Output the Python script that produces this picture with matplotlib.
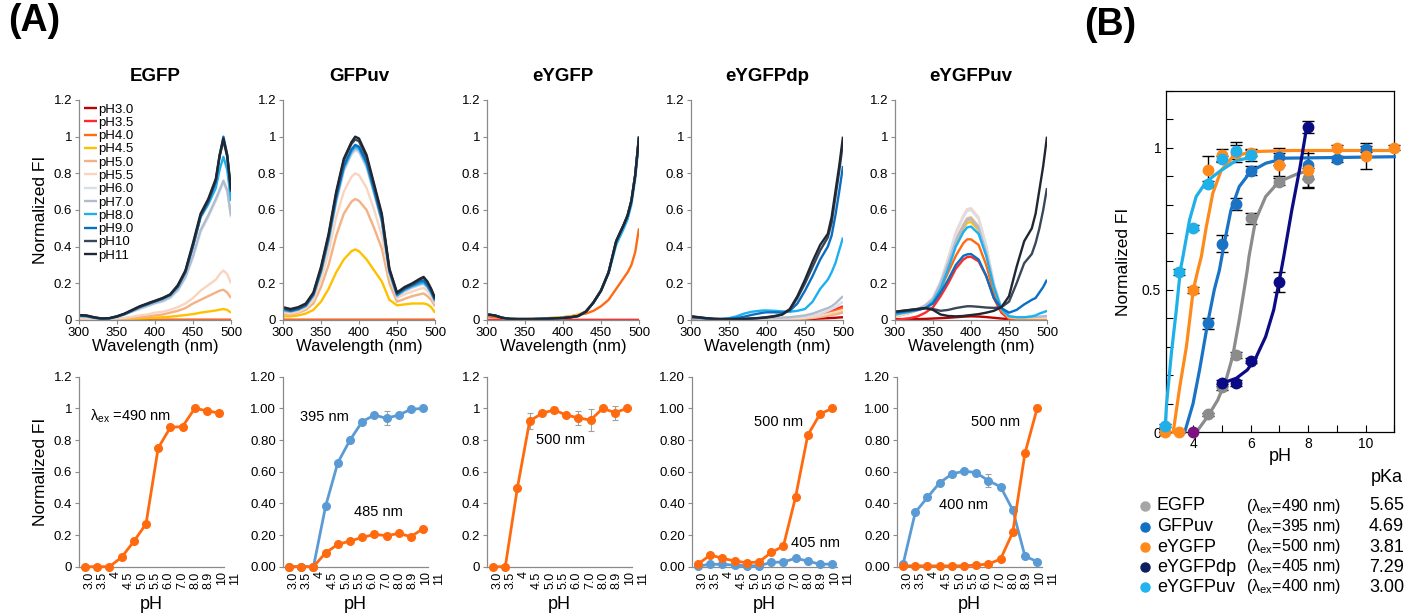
import matplotlib
matplotlib.use('Agg')
import matplotlib.pyplot as plt
import matplotlib.transforms as mtransforms
from matplotlib.ticker import MultipleLocator, FuncFormatter

plt.rcParams.update({
    'font.family': ['Liberation Sans', 'DejaVu Sans'],
    'mathtext.fontset': 'custom',
    'mathtext.rm': 'Liberation Sans',
    'mathtext.it': 'Liberation Sans:italic',
    'font.size': 10,
    'axes.linewidth': 0.8,
})

W, H = 1420, 613

# ---- (A) top row: excitation spectra ----
WL = [300, 310, 320, 330, 340, 350, 360, 370, 380, 390, 395, 400,
      410, 420, 430, 440, 450, 460, 470, 480, 485, 490, 495, 500]
PH_LABELS = ['pH3.0', 'pH3.5', 'pH4.0', 'pH4.5', 'pH5.0', 'pH5.5',
             'pH6.0', 'pH7.0', 'pH8.0', 'pH9.0', 'pH10', 'pH11']
PH_COLORS = ['#C00000', '#FF2A2A', '#FF6A13', '#FFC000', '#F4B183', '#F9D5C0',
             '#D9DFEA', '#B0BCCD', '#1CB0F0', '#0A6FC2', '#3A4759', '#1F2733']

ZERO = [0.0] * 24

egfp_ph45 = [0, 0, 0, 0, 0, 0.003, 0.005, 0.007, 0.009, 0.011, 0.012, 0.013, 0.015, 0.018, 0.022, 0.027, 0.032, 0.04, 0.046, 0.052, 0.056, 0.06, 0.055, 0.04]
egfp_ph50 = [0.003, 0.003, 0.003, 0.003, 0.003, 0.005, 0.008, 0.012, 0.016, 0.02, 0.022, 0.025, 0.03, 0.04, 0.05, 0.065, 0.09, 0.11, 0.13, 0.15, 0.16, 0.165, 0.15, 0.12]
egfp_ph55 = [0.005, 0.005, 0.005, 0.005, 0.005, 0.008, 0.012, 0.018, 0.025, 0.03, 0.035, 0.04, 0.045, 0.055, 0.07, 0.09, 0.12, 0.16, 0.19, 0.22, 0.25, 0.27, 0.25, 0.2]
egfp_ph60 = [0.02, 0.018, 0.01, 0.005, 0.008, 0.015, 0.03, 0.045, 0.06, 0.075, 0.082, 0.09, 0.1, 0.12, 0.16, 0.23, 0.34, 0.48, 0.56, 0.65, 0.7, 0.75, 0.7, 0.56]
egfp_ph70 = [0.021, 0.019, 0.011, 0.006, 0.008, 0.016, 0.031, 0.047, 0.063, 0.078, 0.085, 0.093, 0.105, 0.125, 0.165, 0.235, 0.35, 0.49, 0.57, 0.66, 0.71, 0.76, 0.71, 0.57]
egfp_ph80 = [0.022, 0.02, 0.012, 0.007, 0.009, 0.018, 0.031, 0.05, 0.07, 0.085, 0.093, 0.1, 0.115, 0.135, 0.18, 0.26, 0.4, 0.56, 0.63, 0.72, 0.82, 0.89, 0.82, 0.65]
egfp_ph90 = [0.024, 0.022, 0.013, 0.007, 0.009, 0.019, 0.033, 0.052, 0.072, 0.087, 0.095, 0.102, 0.117, 0.137, 0.183, 0.262, 0.405, 0.565, 0.645, 0.755, 0.895, 1.0, 0.9, 0.7]
egfp_ph10 = [0.025, 0.023, 0.014, 0.008, 0.01, 0.02, 0.034, 0.053, 0.073, 0.088, 0.096, 0.103, 0.118, 0.138, 0.185, 0.265, 0.41, 0.57, 0.65, 0.76, 0.89, 0.98, 0.89, 0.7]
egfp_ph11 = [0.027, 0.025, 0.015, 0.008, 0.01, 0.02, 0.035, 0.055, 0.075, 0.09, 0.098, 0.105, 0.12, 0.14, 0.19, 0.27, 0.42, 0.58, 0.66, 0.77, 0.9, 0.99, 0.9, 0.71]

gfpuv_ph45 = [0.02, 0.02, 0.025, 0.035, 0.055, 0.1, 0.17, 0.26, 0.33, 0.375, 0.385, 0.375, 0.33, 0.27, 0.21, 0.11, 0.08, 0.085, 0.09, 0.09, 0.09, 0.085, 0.07, 0.04]
gfpuv_ph50 = [0.035, 0.03, 0.04, 0.055, 0.09, 0.18, 0.3, 0.46, 0.58, 0.645, 0.66, 0.65, 0.6, 0.5, 0.39, 0.2, 0.1, 0.115, 0.13, 0.14, 0.145, 0.13, 0.11, 0.075]
gfpuv_ph55 = [0.04, 0.035, 0.045, 0.065, 0.11, 0.22, 0.37, 0.56, 0.7, 0.78, 0.8, 0.79, 0.72, 0.6, 0.46, 0.24, 0.12, 0.14, 0.155, 0.17, 0.175, 0.16, 0.13, 0.09]
gfpuv_ph60 = [0.05, 0.045, 0.055, 0.075, 0.13, 0.255, 0.425, 0.64, 0.81, 0.9, 0.925, 0.915, 0.83, 0.685, 0.535, 0.255, 0.13, 0.155, 0.175, 0.19, 0.195, 0.175, 0.14, 0.1]
gfpuv_ph70 = [0.05, 0.045, 0.055, 0.075, 0.13, 0.26, 0.43, 0.65, 0.82, 0.91, 0.935, 0.925, 0.84, 0.69, 0.54, 0.26, 0.13, 0.16, 0.18, 0.195, 0.2, 0.18, 0.145, 0.1]
gfpuv_ph80 = [0.055, 0.048, 0.058, 0.078, 0.135, 0.265, 0.44, 0.66, 0.83, 0.92, 0.945, 0.935, 0.85, 0.7, 0.545, 0.265, 0.135, 0.165, 0.185, 0.2, 0.205, 0.185, 0.15, 0.105]
gfpuv_ph90 = [0.06, 0.05, 0.06, 0.08, 0.14, 0.27, 0.45, 0.67, 0.84, 0.93, 0.955, 0.945, 0.86, 0.71, 0.55, 0.27, 0.14, 0.17, 0.19, 0.21, 0.215, 0.19, 0.155, 0.11]
gfpuv_ph10 = [0.065, 0.055, 0.065, 0.085, 0.145, 0.28, 0.46, 0.69, 0.87, 0.96, 0.985, 0.975, 0.885, 0.73, 0.57, 0.275, 0.145, 0.175, 0.195, 0.22, 0.23, 0.205, 0.165, 0.115]
gfpuv_ph11 = [0.07, 0.06, 0.07, 0.09, 0.15, 0.29, 0.47, 0.7, 0.88, 0.97, 1.0, 0.99, 0.9, 0.74, 0.58, 0.28, 0.15, 0.18, 0.2, 0.225, 0.235, 0.21, 0.17, 0.12]

eygfp_ph40 = [0.02, 0.015, 0.01, 0.006, 0.005, 0.005, 0.006, 0.008, 0.01, 0.012, 0.013, 0.015, 0.02, 0.028, 0.035, 0.05, 0.075, 0.11, 0.17, 0.23, 0.26, 0.3, 0.37, 0.5]
eygfp_ph45 = [0.03, 0.025, 0.012, 0.006, 0.005, 0.005, 0.006, 0.008, 0.01, 0.012, 0.013, 0.015, 0.02, 0.03, 0.048, 0.095, 0.16, 0.26, 0.42, 0.52, 0.57, 0.65, 0.79, 1.0]
eygfp_ph80 = [0.03, 0.025, 0.012, 0.006, 0.005, 0.005, 0.005, 0.006, 0.007, 0.009, 0.01, 0.011, 0.015, 0.022, 0.045, 0.095, 0.16, 0.255, 0.41, 0.5, 0.55, 0.63, 0.77, 0.98]
eygfp_high = [0.03, 0.025, 0.012, 0.006, 0.005, 0.005, 0.005, 0.006, 0.007, 0.009, 0.01, 0.011, 0.015, 0.022, 0.045, 0.095, 0.16, 0.26, 0.43, 0.52, 0.57, 0.65, 0.79, 1.0]

dp_ph30 = [0.01, 0.008, 0.006, 0.005, 0.004, 0.004, 0.004, 0.004, 0.004, 0.004, 0.004, 0.004, 0.004, 0.004, 0.004, 0.004, 0.005, 0.006, 0.008, 0.01, 0.011, 0.012, 0.014, 0.015]
dp_ph35 = [0.012, 0.01, 0.007, 0.005, 0.004, 0.004, 0.004, 0.004, 0.004, 0.004, 0.004, 0.004, 0.004, 0.005, 0.007, 0.01, 0.015, 0.022, 0.032, 0.045, 0.052, 0.058, 0.066, 0.075]
dp_ph40 = [0.012, 0.01, 0.007, 0.005, 0.004, 0.004, 0.004, 0.004, 0.004, 0.004, 0.004, 0.004, 0.004, 0.005, 0.006, 0.009, 0.013, 0.019, 0.028, 0.039, 0.045, 0.05, 0.057, 0.065]
dp_ph45 = [0.012, 0.01, 0.007, 0.005, 0.004, 0.004, 0.004, 0.004, 0.004, 0.004, 0.004, 0.004, 0.004, 0.005, 0.005, 0.007, 0.009, 0.013, 0.019, 0.027, 0.031, 0.035, 0.04, 0.045]
dp_ph50 = [0.012, 0.01, 0.007, 0.005, 0.004, 0.004, 0.004, 0.004, 0.004, 0.004, 0.004, 0.004, 0.004, 0.004, 0.005, 0.006, 0.008, 0.011, 0.016, 0.023, 0.027, 0.031, 0.035, 0.04]
dp_ph55 = [0.012, 0.01, 0.007, 0.005, 0.004, 0.004, 0.004, 0.004, 0.004, 0.004, 0.004, 0.004, 0.005, 0.006, 0.007, 0.009, 0.012, 0.017, 0.024, 0.033, 0.038, 0.043, 0.049, 0.055]
dp_ph60 = [0.012, 0.01, 0.007, 0.005, 0.004, 0.004, 0.004, 0.005, 0.006, 0.008, 0.008, 0.009, 0.01, 0.011, 0.012, 0.015, 0.018, 0.025, 0.035, 0.05, 0.06, 0.07, 0.085, 0.1]
dp_ph70 = [0.015, 0.012, 0.008, 0.005, 0.004, 0.004, 0.005, 0.006, 0.008, 0.01, 0.01, 0.011, 0.012, 0.013, 0.015, 0.02, 0.025, 0.035, 0.05, 0.065, 0.075, 0.09, 0.11, 0.13]
dp_ph80 = [0.015, 0.012, 0.008, 0.005, 0.006, 0.01, 0.02, 0.035, 0.045, 0.05, 0.052, 0.052, 0.05, 0.047, 0.045, 0.05, 0.06, 0.1, 0.17, 0.22, 0.26, 0.31, 0.38, 0.45]
dp_ph90 = [0.015, 0.012, 0.008, 0.005, 0.005, 0.006, 0.01, 0.018, 0.028, 0.036, 0.04, 0.042, 0.042, 0.04, 0.05, 0.09, 0.16, 0.24, 0.33, 0.4, 0.46, 0.57, 0.7, 0.84]
dp_ph10 = [0.02, 0.015, 0.01, 0.006, 0.005, 0.005, 0.005, 0.006, 0.008, 0.012, 0.014, 0.016, 0.022, 0.03, 0.055, 0.12, 0.2, 0.29, 0.38, 0.45, 0.53, 0.67, 0.81, 0.97]
dp_ph11 = [0.02, 0.015, 0.01, 0.006, 0.005, 0.005, 0.005, 0.006, 0.008, 0.01, 0.012, 0.014, 0.02, 0.03, 0.06, 0.13, 0.22, 0.32, 0.41, 0.47, 0.56, 0.7, 0.84, 1.0]

uv_ph30 = [0.005, 0.005, 0.005, 0.005, 0.006, 0.008, 0.01, 0.012, 0.015, 0.018, 0.019, 0.02, 0.019, 0.016, 0.012, 0.008, 0.005, 0.004, 0.003, 0.003, 0.003, 0.003, 0.003, 0.003]
uv_ph35 = [0.0, 0.005, 0.01, 0.02, 0.04, 0.07, 0.13, 0.2, 0.28, 0.33, 0.343, 0.345, 0.32, 0.24, 0.12, 0.04, 0.005, 0.002, 0.002, 0.002, 0.002, 0.002, 0.002, 0.002]
uv_ph40 = [0.02, 0.03, 0.04, 0.055, 0.07, 0.1, 0.17, 0.26, 0.35, 0.42, 0.44, 0.44, 0.41, 0.3, 0.15, 0.05, 0.01, 0.005, 0.005, 0.005, 0.005, 0.005, 0.005, 0.005]
uv_ph45 = [0.02, 0.03, 0.04, 0.055, 0.075, 0.11, 0.19, 0.3, 0.42, 0.5, 0.53, 0.535, 0.49, 0.36, 0.18, 0.06, 0.015, 0.01, 0.01, 0.01, 0.01, 0.01, 0.01, 0.01]
uv_ph50 = [0.02, 0.03, 0.04, 0.055, 0.075, 0.11, 0.2, 0.31, 0.44, 0.52, 0.555, 0.56, 0.51, 0.38, 0.19, 0.06, 0.015, 0.01, 0.01, 0.01, 0.01, 0.01, 0.01, 0.01]
uv_ph55 = [0.02, 0.03, 0.04, 0.055, 0.08, 0.12, 0.21, 0.34, 0.48, 0.57, 0.605, 0.61, 0.56, 0.41, 0.2, 0.065, 0.018, 0.012, 0.012, 0.012, 0.012, 0.012, 0.012, 0.012]
uv_ph60 = [0.025, 0.035, 0.045, 0.06, 0.08, 0.12, 0.21, 0.33, 0.47, 0.56, 0.595, 0.6, 0.55, 0.4, 0.2, 0.065, 0.02, 0.015, 0.015, 0.015, 0.015, 0.016, 0.017, 0.018]
uv_ph70 = [0.03, 0.04, 0.05, 0.06, 0.08, 0.115, 0.2, 0.31, 0.43, 0.51, 0.545, 0.55, 0.5, 0.37, 0.19, 0.06, 0.02, 0.015, 0.015, 0.016, 0.017, 0.018, 0.02, 0.022]
uv_ph80 = [0.03, 0.038, 0.045, 0.055, 0.065, 0.1, 0.17, 0.28, 0.4, 0.48, 0.505, 0.51, 0.47, 0.35, 0.18, 0.06, 0.02, 0.015, 0.015, 0.02, 0.025, 0.035, 0.042, 0.05]
uv_ph90 = [0.04, 0.045, 0.05, 0.055, 0.065, 0.09, 0.15, 0.22, 0.3, 0.35, 0.358, 0.36, 0.33, 0.24, 0.12, 0.065, 0.04, 0.055, 0.085, 0.11, 0.12, 0.15, 0.18, 0.22]
uv_ph10 = [0.045, 0.05, 0.055, 0.06, 0.065, 0.06, 0.05, 0.055, 0.065, 0.072, 0.075, 0.075, 0.072, 0.068, 0.066, 0.07, 0.1, 0.2, 0.31, 0.36, 0.42, 0.5, 0.6, 0.72]
uv_ph11 = [0.045, 0.05, 0.055, 0.06, 0.065, 0.055, 0.03, 0.022, 0.02, 0.022, 0.025, 0.027, 0.032, 0.04, 0.05, 0.07, 0.13, 0.29, 0.43, 0.5, 0.58, 0.71, 0.84, 1.0]

PROTEINS = ['EGFP', 'GFPuv', 'eYGFP', 'eYGFPdp', 'eYGFPuv']
SPECTRA = [
    [ZERO, ZERO, ZERO, egfp_ph45, egfp_ph50, egfp_ph55, egfp_ph60, egfp_ph70, egfp_ph80, egfp_ph90, egfp_ph10, egfp_ph11],
    [ZERO, ZERO, ZERO, gfpuv_ph45, gfpuv_ph50, gfpuv_ph55, gfpuv_ph60, gfpuv_ph70, gfpuv_ph80, gfpuv_ph90, gfpuv_ph10, gfpuv_ph11],
    [ZERO, ZERO, eygfp_ph40, eygfp_ph45, eygfp_high, eygfp_high, eygfp_high, eygfp_high, eygfp_ph80, eygfp_high, eygfp_high, eygfp_high],
    [dp_ph30, dp_ph35, dp_ph40, dp_ph45, dp_ph50, dp_ph55, dp_ph60, dp_ph70, dp_ph80, dp_ph90, dp_ph10, dp_ph11],
    [uv_ph30, uv_ph35, uv_ph40, uv_ph45, uv_ph50, uv_ph55, uv_ph60, uv_ph70, uv_ph80, uv_ph90, uv_ph10, uv_ph11],
]

# ---- (A) bottom row: FI vs pH (categorical pH axis) ----
PH_TICKS = ['3.0', '3.5', '4', '4.5', '5.0', '5.5', '6.0', '7.0', '8.0', '8.9', '10', '11']
egfp_490 = [0, 0, 0, 0.06, 0.16, 0.27, 0.75, 0.88, 0.885, 1.0, 0.985, 0.97]
egfp_490_err = [0, 0, 0, 0, 0, 0, 0, 0, 0, 0, 0.01, 0.02]
gfpuv_395 = [0, 0, 0, 0.383, 0.657, 0.8, 0.916, 0.958, 0.937, 0.958, 0.994, 1.0]
gfpuv_395_err = [0, 0, 0, 0, 0, 0, 0, 0, 0.045, 0, 0, 0.01]
gfpuv_485 = [0, 0, 0, 0.088, 0.141, 0.162, 0.185, 0.204, 0.196, 0.21, 0.19, 0.24]
eygfp_500 = [0, 0, 0.5, 0.92, 0.968, 0.99, 0.958, 0.94, 0.926, 1.0, 0.973, 1.0]
eygfp_500_err = [0, 0, 0, 0.05, 0.01, 0.02, 0.015, 0.045, 0.07, 0, 0.045, 0]
dp_500 = [0.017, 0.074, 0.053, 0.036, 0.025, 0.03, 0.09, 0.13, 0.44, 0.83, 0.964, 1.0]
dp_405 = [0.004, 0.015, 0.015, 0.01, 0.006, 0.006, 0.027, 0.03, 0.053, 0.036, 0.015, 0.017]
uv_400 = [0.017, 0.343, 0.438, 0.53, 0.585, 0.604, 0.594, 0.543, 0.505, 0.358, 0.067, 0.032]
uv_400_err = [0, 0, 0, 0, 0, 0, 0.01, 0.04, 0, 0, 0, 0]
uv_500 = [0.005, 0.006, 0.005, 0.005, 0.005, 0.006, 0.01, 0.017, 0.048, 0.217, 0.716, 1.0]

# ---- (B) pH titration with fits ----
b_egfp_ph = [4.5, 5.0, 5.5, 6.0, 7.0, 8.0]
b_egfp_fi = [0.063, 0.16, 0.272, 0.752, 0.88, 0.892]
b_egfp_err = [0.005, 0.01, 0.01, 0.02, 0.012, 0.035]
b_gfpuv_ph = [4.5, 5.0, 5.5, 6.0, 7.0, 8.0, 9.0, 10.0]
b_gfpuv_fi = [0.383, 0.662, 0.802, 0.919, 0.968, 0.94, 0.959, 0.994]
b_gfpuv_err = [0.02, 0.03, 0.02, 0.015, 0.03, 0.05, 0.01, 0.01]
b_eygfp_ph = [3.0, 3.5, 4.0, 4.5, 5.0, 5.5, 6.0, 7.0, 8.0, 9.0, 10.0, 11.0]
b_eygfp_fi = [0.0, 0.0, 0.5, 0.92, 0.974, 0.98, 0.98, 0.94, 0.92, 1.0, 0.971, 1.0]
b_eygfp_err = [0, 0, 0.01, 0.05, 0.02, 0.03, 0.01, 0.04, 0.06, 0.01, 0.045, 0.01]
b_dp_ph = [5.0, 5.5, 6.0, 7.0, 8.0]
b_dp_fi = [0.172, 0.172, 0.252, 0.529, 1.072]
b_dp_err = [0.01, 0.01, 0.01, 0.035, 0.02]
b_uv_ph = [3.0, 3.5, 4.0, 4.5, 5.0, 5.5, 6.0]
b_uv_fi = [0.023, 0.564, 0.719, 0.872, 0.959, 0.989, 0.974]
b_uv_err = [0.005, 0.01, 0.01, 0.01, 0.01, 0.03, 0.02]
b_extra_ph = [4.0]
b_extra_fi = [0.0]

# fitted curves
fit_egfp_ph = [4.1, 4.5, 4.85, 5.14, 5.37, 5.6, 5.77, 5.88, 5.94, 6.17, 6.52, 6.98, 7.67, 7.98]
fit_egfp_fi = [0.0, 0.055, 0.113, 0.184, 0.266, 0.395, 0.5, 0.57, 0.617, 0.746, 0.828, 0.88, 0.91, 0.916]
fit_gfpuv_ph = [3.7, 3.99, 4.22, 4.5, 4.73, 4.91, 5.08, 5.31, 5.6, 6.0, 6.52, 7.2, 11.0]
fit_gfpuv_fi = [0.0, 0.1, 0.22, 0.383, 0.5, 0.57, 0.664, 0.78, 0.863, 0.916, 0.945, 0.963, 0.968]
fit_eygfp_ph = [3.3, 3.53, 3.76, 4.0, 4.16, 4.28, 4.45, 4.68, 4.97, 5.37, 6.06, 7.43, 11.0]
fit_eygfp_fi = [0.0, 0.16, 0.3, 0.5, 0.57, 0.617, 0.72, 0.84, 0.92, 0.968, 0.986, 0.99, 0.99]
fit_dp_ph = [5.0, 5.5, 5.88, 6.17, 6.52, 6.8, 6.98, 7.15, 7.43, 7.72, 7.95]
fit_dp_fi = [0.172, 0.19, 0.219, 0.26, 0.336, 0.43, 0.524, 0.617, 0.78, 0.933, 1.072]
fit_uv_ph = [3.02, 3.07, 3.24, 3.41, 3.55, 3.64, 3.87, 4.1, 4.45, 4.91, 5.5, 6.0]
fit_uv_fi = [0.02, 0.1, 0.28, 0.43, 0.57, 0.617, 0.746, 0.828, 0.88, 0.916, 0.955, 0.965]

LEG_NAMES = ['EGFP', 'GFPuv', 'eYGFP', 'eYGFPdp', 'eYGFPuv']
LEG_EX = ['490', '395', '500', '405', '400']
LEG_PKA = ['5.65', '4.69', '3.81', '7.29', '3.00']
LEG_COLORS = ['#A6A6A6', '#1170C4', '#FF8A1C', '#0D1E5E', '#1FB4EF']

B_COLORS = {'egfp': '#8C8C8C', 'gfpuv': '#1A73C4', 'eygfp': '#FF8A1C',
            'dp': '#0B0B85', 'uv': '#1FB0EA', 'extra': '#7A137E'}
ORANGE = '#FF6A0E'
BLUE = '#5B9BD5'
AXGREY = '#8A8A8A'
LAM = 'λ$_{\\rm ex}$'


def rect(x0, y0, x1, y1):
    return [x0 / W, 1 - y1 / H, (x1 - x0) / W, (y1 - y0) / H]


def style_a(ax):
    for s in ['top', 'right']:
        ax.spines[s].set_visible(False)
    for s in ['left', 'bottom']:
        ax.spines[s].set_color(AXGREY)
        ax.spines[s].set_linewidth(0.9)
    ax.tick_params(direction='out', length=3, width=0.8, color=AXGREY,
                   labelsize=9.5, pad=2)


fig = plt.figure(figsize=(W / 100, H / 100), dpi=100)

TOP_X = [79, 283, 487, 691, 895]
BOT_X = [79, 283, 487, 692, 897]

for i, (name, specs) in enumerate(zip(PROTEINS, SPECTRA)):
    ax = fig.add_axes(rect(TOP_X[i], 100, TOP_X[i] + 152, 320))
    for lab, col, spec in zip(PH_LABELS, PH_COLORS, specs):
        ax.plot(WL, spec, color=col, lw=1.7, label=lab, solid_capstyle='butt')
    ax.set_xlim(300, 500)
    ax.set_ylim(0, 1.2)
    ax.set_xticks([300, 350, 400, 450, 500])
    ax.set_yticks([0, 0.2, 0.4, 0.6, 0.8, 1.0, 1.2])
    ax.yaxis.set_major_formatter(FuncFormatter(lambda v, _: f'{v:g}'))
    style_a(ax)
    ax.set_xlabel('Wavelength (nm)', fontsize=12, labelpad=0)
    ax.set_title(name, fontsize=13.5, fontweight='bold', pad=14)
    if i == 0:
        ax.set_ylabel('Normalized FI', fontsize=12.5, labelpad=4)
        ax.legend(loc='upper left', bbox_to_anchor=(0.03, 0.985), frameon=False,
                  fontsize=9.5, handlelength=1.0, handletextpad=0.1,
                  labelspacing=0.08, borderaxespad=0, borderpad=0)

BOTTOM = [
    [(egfp_490, egfp_490_err, ORANGE)],
    [(gfpuv_395, gfpuv_395_err, BLUE), (gfpuv_485, None, ORANGE)],
    [(eygfp_500, eygfp_500_err, ORANGE)],
    [(dp_405, None, BLUE), (dp_500, None, ORANGE)],
    [(uv_400, uv_400_err, BLUE), (uv_500, None, ORANGE)],
]
NOTES = [
    [(0.076, 0.79, LAM + ' =490 nm')],
    [(0.117, 0.79, '395 nm'), (0.49, 0.29, '485 nm')],
    [(0.34, 0.667, '500 nm')],
    [(0.43, 0.76, '500 nm'), (0.68, 0.126, '405 nm')],
    [(0.51, 0.76, '500 nm'), (0.29, 0.325, '400 nm')],
]
label_pos = [0.33 + k * 1.088 for k in range(len(PH_TICKS))]

for i in range(5):
    ax = fig.add_axes(rect(BOT_X[i], 376.7, BOT_X[i] + 145, 566.7))
    idx = list(range(len(PH_TICKS)))
    for vals, err, col in BOTTOM[i]:
        if err is not None:
            ax.errorbar(idx, vals, yerr=err, fmt='none', ecolor='#A0A0A0',
                        elinewidth=0.8, capsize=2, capthick=0.8, zorder=2)
        ax.plot(idx, vals, color=col, lw=2.0, marker='o', ms=5.5, zorder=3,
                clip_on=False)
    ax.set_xlim(-0.5, 11.4)
    ax.set_ylim(0, 1.2)
    ax.set_yticks([0, 0.2, 0.4, 0.6, 0.8, 1.0, 1.2])
    if i in (0, 2):
        ax.yaxis.set_major_formatter(FuncFormatter(lambda v, _: f'{v:g}'))
    else:
        ax.yaxis.set_major_formatter(FuncFormatter(lambda v, _: f'{v:.2f}'))
    ax.set_xticks([])
    style_a(ax)
    trans = mtransforms.blended_transform_factory(ax.transData, ax.transAxes)
    for p, lab in zip(label_pos, PH_TICKS):
        ax.text(p, -0.025, lab, transform=trans, rotation=90, ha='center',
                va='top', fontsize=9, clip_on=False)
    ax.text(0.5, -0.2, 'pH', transform=ax.transAxes, ha='center', va='center',
            fontsize=13)
    for tx, ty, s in NOTES[i]:
        ax.text(tx, ty, s, transform=ax.transAxes, ha='left', va='center',
                fontsize=10.5)
    if i == 0:
        ax.set_ylabel('Normalized FI', fontsize=12.5, labelpad=4)

# ---- panel B ----
axb = fig.add_axes(rect(1166, 90.7, 1394.3, 432.3))
series_b = [
    ('egfp', fit_egfp_ph, fit_egfp_fi, b_egfp_ph, b_egfp_fi, b_egfp_err),
    ('gfpuv', fit_gfpuv_ph, fit_gfpuv_fi, b_gfpuv_ph, b_gfpuv_fi, b_gfpuv_err),
    ('eygfp', fit_eygfp_ph, fit_eygfp_fi, b_eygfp_ph, b_eygfp_fi, b_eygfp_err),
    ('uv', fit_uv_ph, fit_uv_fi, b_uv_ph, b_uv_fi, b_uv_err),
    ('dp', fit_dp_ph, fit_dp_fi, b_dp_ph, b_dp_fi, b_dp_err),
]
for key, fx, fy, px, py, pe in series_b:
    col = B_COLORS[key]
    axb.errorbar(px, py, yerr=pe, fmt='none', ecolor='black', elinewidth=1.0,
                 capsize=4, capthick=1.0, zorder=2, clip_on=False)
    axb.plot(fx, fy, color=col, lw=2.3, zorder=3, clip_on=False)
    axb.plot(px, py, 'o', color=col, ms=7.5, zorder=4, clip_on=False)
axb.plot(b_extra_ph, b_extra_fi, 'o', color=B_COLORS['extra'], ms=7.5, zorder=5,
         clip_on=False)
axb.set_xlim(3.05, 11.0)
axb.set_ylim(0, 1.2)
axb.set_xticks([4, 6, 8, 10])
axb.xaxis.set_minor_locator(MultipleLocator(1))
axb.set_yticks([0, 0.5, 1.0])
axb.set_yticklabels(['0', '0.5', '1'])
axb.yaxis.set_minor_locator(MultipleLocator(0.1))
axb.tick_params(which='both', direction='in', top=False, right=False,
                labelsize=10, width=0.8)
axb.tick_params(which='major', length=5)
axb.tick_params(which='minor', length=5)
for s in axb.spines.values():
    s.set_linewidth(0.9)
axb.set_xlabel('pH', fontsize=13, labelpad=-2)
axb.set_ylabel('Normalized FI', fontsize=12.5, labelpad=8)

# overlay axes in pixel units for labels and the legend of (B)
ov = fig.add_axes([0, 0, 1, 1], zorder=10)
ov.set_xlim(0, W)
ov.set_ylim(H, 0)
ov.axis('off')
ov.text(8, 3, '(A)', fontsize=27, fontweight='bold', ha='left', va='top')
ov.text(1084, 7, '(B)', fontsize=27, fontweight='bold', ha='left', va='top')
ov.text(1403, 477, 'pKa', fontsize=13, ha='right', va='center')
row_y = [506, 526.5, 547, 567, 587]
for y, nm, ex, pk, col in zip(row_y, LEG_NAMES, LEG_EX, LEG_PKA, LEG_COLORS):
    ov.plot([1145], [y], 'o', color=col, ms=6.5)
    ov.text(1157, y, nm, fontsize=13, ha='left', va='center')
    ov.text(1246, y, '(' + LAM + '=' + ex + ' nm)', fontsize=11.5,
            ha='left', va='center')
    ov.text(1404, y, pk, fontsize=13, ha='right', va='center')

fig.savefig('out.png', dpi=100)
